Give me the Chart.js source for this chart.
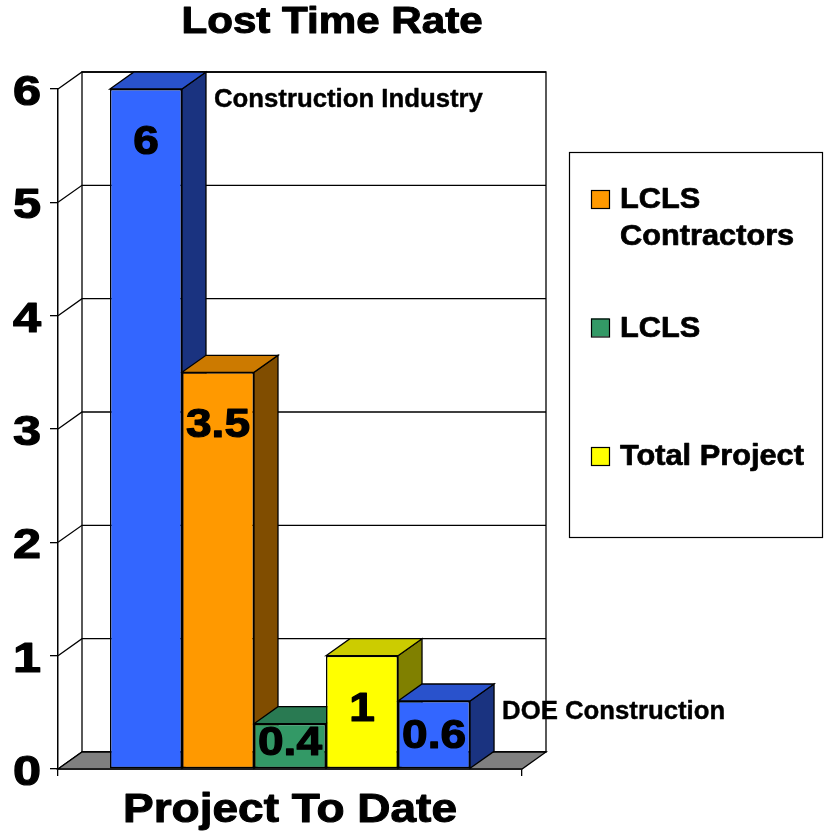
<!DOCTYPE html>
<html>
<head>
<meta charset="utf-8">
<title>Lost Time Rate</title>
<script src="https://cdn.jsdelivr.net/npm/chart.js@4/dist/chart.umd.min.js"></script>
<style>
  html, body { margin: 0; padding: 0; background: #fff; }
  #chart { display: block; }
</style>
</head>
<body>
<canvas id="chart" width="827" height="836"></canvas>
<script>
// chart values
const categories = ["Project To Date"];
const seriesNames = ["Construction Industry", "LCLS Contractors", "LCLS", "Total Project", "DOE Construction"];
const seriesValues = [6, 3.5, 0.4, 1, 0.6];
const seriesColors = ["#3366FF", "#FF9900", "#339966", "#FFFF00", "#3366FF"];
const yTicks = [0, 1, 2, 3, 4, 5, 6];
const legendSeries = [1, 2, 3];     // shown in the legend box
const calloutSeries = [0, 4];       // named beside their bar instead
const chartTitle = "Lost Time Rate";

const FONT = '"Liberation Sans", Arial, sans-serif';
const DX = 24, DY = 17;   // 3d depth offset

function shade(hex, f){
  const n = parseInt(hex.slice(1), 16);
  const r = Math.round(((n >> 16) & 255) * f), g = Math.round(((n >> 8) & 255) * f), b = Math.round((n & 255) * f);
  return "rgb(" + r + "," + g + "," + b + ")";
}

// draw text with a horizontal stretch (the original is wider than plain Arial),
// plus an optional thin outline to get the heavier weight of the original
function text(ctx, str, x, y, size, align, sx, heavy){
  ctx.save();
  ctx.translate(x, y);
  ctx.scale(sx || 1, 1);
  ctx.font = "bold " + size + "px " + FONT;
  ctx.fillStyle = "#000";
  ctx.textAlign = align || "left";
  ctx.textBaseline = "alphabetic";
  ctx.fillText(str, 0, 0);
  if (heavy) {
    ctx.strokeStyle = "#000";
    ctx.lineWidth = heavy;
    ctx.lineJoin = "round";
    ctx.strokeText(str, 0, 0);
  }
  ctx.restore();
}

function poly(ctx, pts, fill){
  ctx.beginPath();
  ctx.moveTo(pts[0][0], pts[0][1]);
  for (let i = 1; i < pts.length; i++) ctx.lineTo(pts[i][0], pts[i][1]);
  ctx.closePath();
  if (fill) { ctx.fillStyle = fill; ctx.fill(); }
  ctx.stroke();
}

const threeD = {
  id: "threeD",
  beforeDatasetsDraw(chart){
    const ctx = chart.ctx, a = chart.chartArea, ys = chart.scales.y;
    const y0 = ys.getPixelForValue(0), yTop = ys.getPixelForValue(yTicks[yTicks.length - 1]);
    ctx.save();
    ctx.strokeStyle = "#000";
    ctx.lineWidth = 1.3;
    // back wall
    poly(ctx, [[a.left + DX, yTop - DY], [a.right + DX, yTop - DY], [a.right + DX, y0 - DY], [a.left + DX, y0 - DY]], "#fff");
    // gridlines on back wall + side wall diagonals
    yTicks.forEach(v => {
      const y = ys.getPixelForValue(v);
      ctx.beginPath();
      ctx.moveTo(a.left, y); ctx.lineTo(a.left + DX, y - DY); ctx.lineTo(a.right + DX, y - DY);
      ctx.stroke();
    });
    // floor
    poly(ctx, [[a.left, y0], [a.left + DX, y0 - DY], [a.right + DX, y0 - DY], [a.right, y0]], "#808080");
    // bar tops and sides, left to right
    seriesValues.forEach((v, i) => {
      const bar = chart.getDatasetMeta(i).data[0];
      if (!bar) return;
      const L = bar.x - bar.width / 2, R = bar.x + bar.width / 2, T = bar.y, B = bar.base;
      poly(ctx, [[R, T], [R + DX, T - DY], [R + DX, B - DY], [R, B]], shade(seriesColors[i], 0.5));
      poly(ctx, [[L, T], [L + DX, T - DY], [R + DX, T - DY], [R, T]], shade(seriesColors[i], 0.8));
    });
    ctx.restore();
  },
  afterDatasetsDraw(chart){
    const ctx = chart.ctx, a = chart.chartArea, ys = chart.scales.y, xs = chart.scales.x;

    // value labels inside the bars
    seriesValues.forEach((v, i) => {
      const bar = chart.getDatasetMeta(i).data[0];
      const h = bar.base - bar.y;
      text(ctx, String(v), bar.x, bar.y + Math.min(65, 0.7 * h), 40, "center", 1.15, 1.2);
    });

    // series named next to their bars
    calloutSeries.forEach(i => {
      const bar = chart.getDatasetMeta(i).data[0];
      text(ctx, seriesNames[i], bar.x + bar.width / 2 + DX + 8, bar.y + 18, 25, "left", 1.03, 0.4);
    });

    // y tick labels
    ys.ticks.forEach(t => {
      text(ctx, String(t.value), a.left - 17, ys.getPixelForValue(t.value) + 16, 42, "right", 1.2, 1.2);
    });

    // category label
    xs.getLabels().forEach((lab, i) => {
      text(ctx, lab, xs.getPixelForTick(i), 822, 40, "center", 1.15, 1);
    });

    // title
    text(ctx, chartTitle, 332, 33, 36, "center", 1.17, 1);

    // legend box
    const lx = 569, ly = 152, lw = 253, lh = 385;
    ctx.save();
    ctx.strokeStyle = "#000";
    ctx.lineWidth = 1.2;
    ctx.strokeRect(lx + 0.5, ly + 0.5, lw, lh);
    ctx.font = "bold 29px " + FONT;
    legendSeries.forEach((si, k) => {
      const base = ly + 56 + k * 128.5;
      // wrap words to the box width
      const words = seriesNames[si].split(" ");
      const lines = [];
      let cur = "";
      words.forEach(w => {
        const tryLine = cur ? cur + " " + w : w;
        if (cur && ctx.measureText(tryLine).width * 1.06 > 195) { lines.push(cur); cur = w; }
        else cur = tryLine;
      });
      lines.push(cur);
      ctx.fillStyle = seriesColors[si];
      ctx.fillRect(591, base - 18, 18, 18);
      ctx.strokeRect(591.5, base - 17.5, 18, 18);
      lines.forEach((ln, j) => text(ctx, ln, 620, base + j * 37, 29, "left", 1.06, 0.7));
    });
    ctx.restore();
  }
};

new Chart(document.getElementById("chart"), {
  type: "bar",
  data: {
    labels: categories,
    datasets: seriesNames.map((name, i) => ({
      label: name,
      data: [seriesValues[i]],
      backgroundColor: seriesColors[i],
      borderColor: "#000",
      borderWidth: 1.5,
      borderSkipped: false
    }))
  },
  options: {
    responsive: false,
    animation: false,
    events: [],
    layout: { padding: { left: 0, right: 305, top: 89, bottom: 0 } },
    datasets: { bar: { categoryPercentage: 0.776, barPercentage: 1 } },
    plugins: { legend: { display: false }, title: { display: false }, tooltip: { enabled: false } },
    scales: {
      x: {
        ticks: { display: false },
        grid: { drawOnChartArea: false, tickLength: 7, color: "#000", lineWidth: 1.3 },
        border: { color: "#000", width: 1.5 },
        afterFit: s => { s.height = 67; }
      },
      y: {
        min: yTicks[0],
        max: yTicks[yTicks.length - 1],
        ticks: { display: false, stepSize: 1 },
        grid: { drawOnChartArea: false, tickLength: 8, color: "#000", lineWidth: 1.3 },
        border: { color: "#000", width: 1.5 },
        afterFit: s => { s.width = 58; }
      }
    }
  },
  plugins: [threeD]
});
</script>
</body>
</html>
